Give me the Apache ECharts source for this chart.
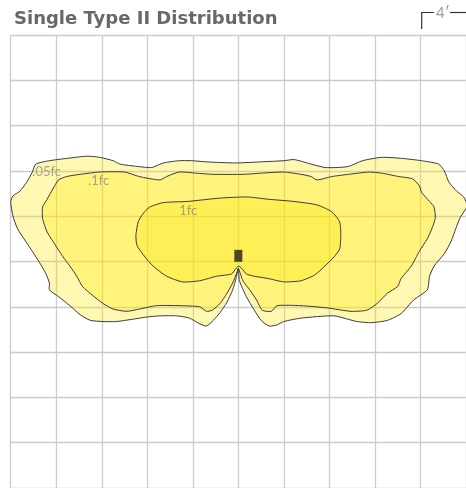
<!DOCTYPE html>
<html>
<head>
<meta charset="utf-8">
<script src="https://cdn.jsdelivr.net/npm/echarts@6/dist/echarts.min.js"></script>
<style>html,body{margin:0;padding:0;background:#fff;}#c{width:466px;height:488px;}</style>
</head>
<body>
<div id="c"></div>
<script>
// Illuminance contours (feet, fixture at origin)
const contour05 = [[0.0,-0.6],[-0.2,-1.5],[-0.5,-2.5],[-1.0,-3.6],[-1.6,-4.5],[-2.2,-5.2],[-2.8,-5.7],[-3.4,-5.5],[-4.3,-5.0],[-5.4,-4.8],[-6.9,-4.8],[-8.0,-4.9],[-9.3,-5.1],[-10.7,-5.3],[-11.9,-5.3],[-13.0,-5.2],[-13.9,-4.7],[-14.8,-3.9],[-15.8,-3.1],[-16.6,-2.5],[-16.6,-1.9],[-16.9,-1.1],[-17.4,-0.2],[-18.1,0.9],[-18.7,1.8],[-19.4,2.9],[-19.8,4.0],[-20.0,5.3],[-19.8,5.8],[-19.2,6.2],[-18.6,7.0],[-18.1,7.9],[-17.8,8.6],[-16.6,8.9],[-15.1,9.1],[-13.3,9.3],[-12.2,9.2],[-11.0,8.9],[-10.4,8.6],[-8.9,8.4],[-7.6,8.3],[-6.6,8.7],[-5.2,8.9],[-4.1,8.9],[-2.8,8.8],[-0.3,8.7],[2.0,8.8],[4.0,8.9],[4.9,9.0],[6.4,8.6],[7.6,8.3],[8.7,8.3],[9.7,8.4],[10.9,8.9],[12.6,9.2],[14.4,9.1],[16.1,8.9],[17.6,8.6],[18.1,8.0],[18.5,7.0],[19.2,6.2],[19.8,5.7],[20.1,4.9],[19.5,3.9],[19.1,2.9],[18.7,1.8],[18.1,0.7],[17.2,-0.4],[16.8,-1.3],[16.6,-2.5],[15.4,-3.4],[14.3,-4.6],[13.1,-5.2],[11.7,-5.4],[10.4,-5.3],[8.4,-4.8],[5.5,-5.0],[4.0,-5.3],[3.4,-5.6],[2.7,-5.7],[2.0,-5.2],[1.4,-4.3],[0.7,-3.1],[0.1,-1.7]];
const contour1 = [[0.0,-0.6],[-0.1,-0.9],[-0.5,-1.9],[-1.0,-2.8],[-1.6,-3.7],[-2.3,-4.3],[-2.8,-4.4],[-3.4,-4.0],[-5.2,-3.9],[-7.2,-3.9],[-8.7,-4.2],[-9.8,-4.4],[-11.0,-4.2],[-11.9,-3.7],[-12.8,-3.0],[-13.7,-2.2],[-14.2,-1.3],[-14.8,-0.4],[-15.4,0.4],[-16.3,1.8],[-16.8,2.6],[-17.2,3.8],[-17.2,4.8],[-16.8,5.5],[-16.3,6.4],[-15.8,7.2],[-15.1,7.5],[-13.9,7.7],[-12.2,7.9],[-10.0,7.9],[-8.7,7.5],[-6.9,7.2],[-6.3,7.5],[-5.2,7.9],[-3.7,7.8],[-2.3,7.7],[0.5,7.7],[2.0,7.8],[4.0,7.9],[5.5,7.7],[6.4,7.5],[6.9,7.2],[8.2,7.5],[9.7,7.7],[11.5,7.9],[12.6,7.8],[14.1,7.5],[15.3,7.3],[15.9,6.7],[16.1,6.1],[16.8,5.3],[17.2,4.8],[17.3,3.8],[17.0,2.9],[16.6,2.0],[15.9,0.9],[15.2,-0.4],[14.3,-1.5],[14.0,-2.2],[13.1,-2.8],[12.2,-3.7],[11.3,-4.3],[9.9,-4.4],[7.8,-4.1],[5.5,-3.9],[3.4,-3.9],[2.9,-4.4],[2.1,-4.3],[1.6,-3.4],[1.0,-2.5],[0.4,-1.7]];
const contour10 = [[0.0,-0.4],[-0.2,-0.6],[-0.6,-1.1],[-1.9,-1.3],[-3.4,-1.7],[-4.9,-1.8],[-6.3,-1.3],[-7.5,-0.4],[-8.2,0.4],[-8.9,1.4],[-9.0,2.3],[-8.8,3.5],[-8.4,4.2],[-7.8,4.8],[-6.6,5.2],[-4.5,5.3],[-1.6,5.6],[0.8,5.7],[2.6,5.5],[4.9,5.3],[6.9,5.0],[8.2,4.4],[8.9,3.5],[9.0,2.3],[8.9,1.1],[8.4,0.4],[7.6,-0.4],[6.7,-1.2],[5.5,-1.7],[4.0,-1.8],[2.6,-1.5],[1.4,-1.3],[0.7,-1.1],[0.3,-0.6]];
const labelNames = ['.05fc', '.1fc', '1fc'];
const labelPos = [[-18.1, 7.9], [-13.2, 7.1], [-5.2, 4.5]];
const fixturePos = [[0, 0.5]];
const axisMin = -20, axisMax = 20, gridStep = 4;

const chart = echarts.init(document.getElementById('c'), null, {renderer: 'canvas'});

function contourSeries(points, name) {
  return {
    type: 'custom', name: name, z: 2,
    data: [[0, 0]],
    silent: true,
    renderItem: function (params, api) {
      return {
        type: 'polygon',
        shape: {points: points.map(p => api.coord(p)), smooth: 0.2},
        style: {fill: 'rgba(255,232,0,0.3)', stroke: '#3a3a3a', lineWidth: 1}
      };
    }
  };
}

chart.setOption({
  animation: false,
  backgroundColor: '#fff',
  title: {
    text: 'Single Type II Distribution', left: 9, top: 5,
    textStyle: {fontFamily: 'DejaVu Sans', fontSize: 18, fontWeight: 'bold', color: '#686868'}
  },
  grid: {left: 10.7, top: 35, width: 456.3, height: 456.3, containLabel: false},
  xAxis: {
    type: 'value', min: axisMin, max: axisMax, interval: gridStep,
    axisLine: {show: false}, axisTick: {show: false}, axisLabel: {show: false},
    splitLine: {show: true, lineStyle: {color: '#cccccc', width: 1.3}}
  },
  yAxis: {
    type: 'value', min: axisMin, max: axisMax, interval: gridStep,
    axisLine: {show: false}, axisTick: {show: false}, axisLabel: {show: false},
    splitLine: {show: true, lineStyle: {color: '#cccccc', width: 1.3}}
  },
  series: [
    contourSeries(contour05, '.05fc'),
    contourSeries(contour1, '.1fc'),
    contourSeries(contour10, '1fc'),
    {
      type: 'scatter', z: 5, symbolSize: 0, silent: true,
      data: labelPos.map((p, i) => ({value: p, name: labelNames[i]})),
      label: {show: true, position: 'right', distance: 0, formatter: '{b}',
        fontFamily: 'Lato', fontWeight: 'normal', fontSize: 13, color: '#8c8c8c'}
    },
    {
      type: 'scatter', z: 6, symbol: 'rect', symbolSize: [8, 12], silent: true,
      itemStyle: {color: '#1e1e1e'},
      data: fixturePos
    }
  ],
  graphic: [
    {type: 'polyline', shape: {points: [[421.7, 29], [421.7, 12.5], [434, 12.5]]}, style: {stroke: '#333', lineWidth: 1.2, fill: null}},
    {type: 'text', left: 436, top: 6, style: {text: "4\u2032", fontFamily: 'Lato', fontWeight: 'normal', fontSize: 15, fill: '#999'}},
    {type: 'line', shape: {x1: 450, y1: 12.5, x2: 466, y2: 12.5}, style: {stroke: '#333', lineWidth: 1.2}}
  ]
});
</script>
</body>
</html>
